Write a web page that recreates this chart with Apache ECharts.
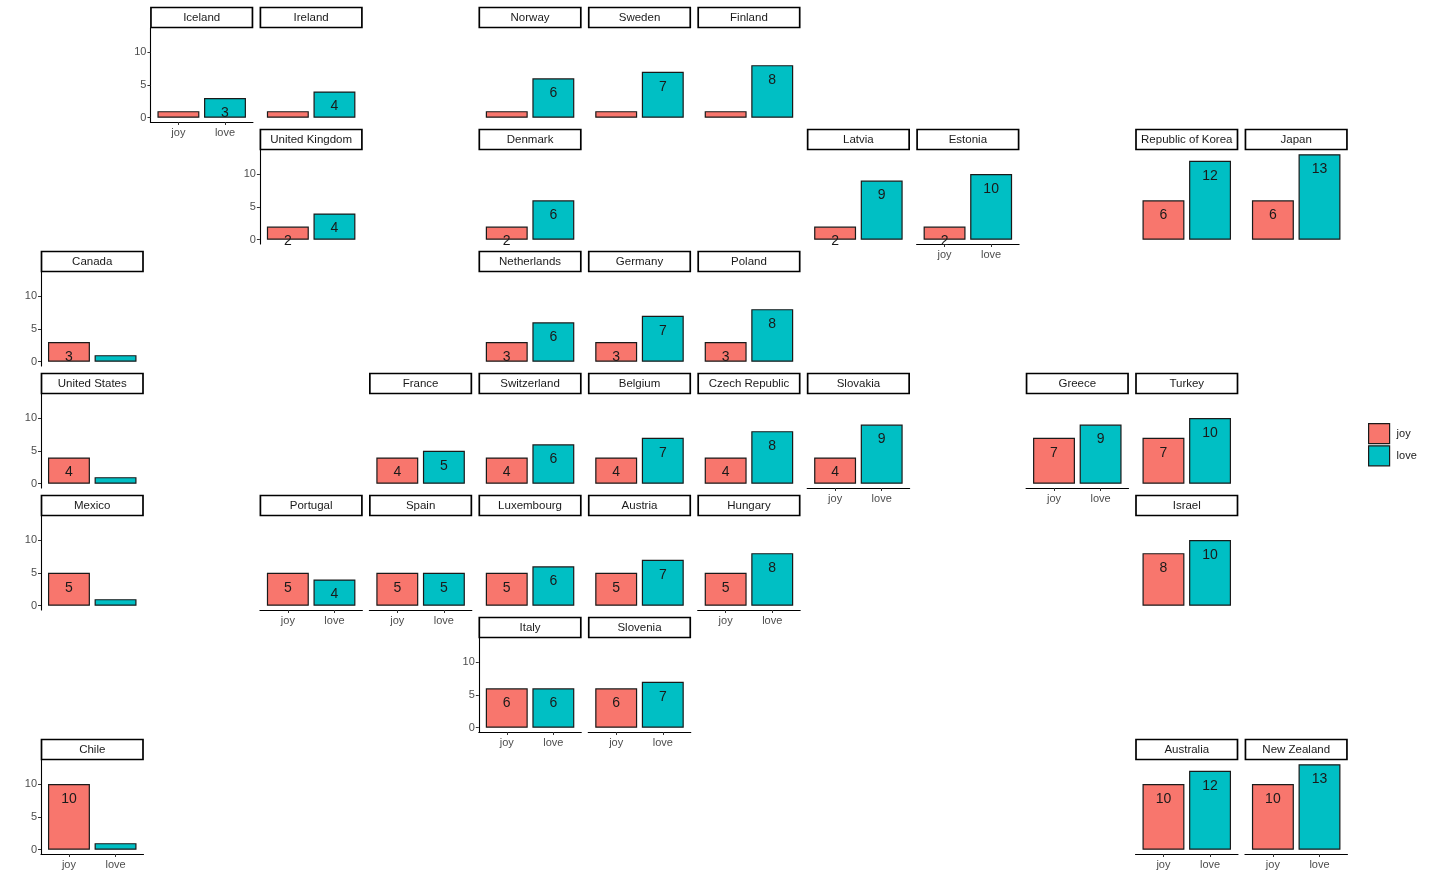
<!DOCTYPE html>
<html>
<head>
<meta charset="utf-8">
<script src="https://cdn.jsdelivr.net/npm/echarts@6/dist/echarts.min.js"></script>
<style>
  html, body { margin: 0; background: #fff; }
  #chart { width: 1430px; height: 894px; }
</style>
</head>
<body>
<div id="chart"></div>
<script>
// geofacet grid: country, joy / love counts, row / col in the grid
const countries = [
  "Iceland", "Ireland", "Norway", "Sweden", "Finland",
  "United Kingdom", "Denmark", "Latvia", "Estonia", "Republic of Korea", "Japan",
  "Canada", "Netherlands", "Germany", "Poland",
  "United States", "France", "Switzerland", "Belgium", "Czech Republic", "Slovakia", "Greece", "Turkey",
  "Mexico", "Portugal", "Spain", "Luxembourg", "Austria", "Hungary", "Israel",
  "Italy", "Slovenia",
  "Chile", "Australia", "New Zealand"
];
const joy = [
  1, 1, 1, 1, 1,
  2, 2, 2, 2, 6, 6,
  3, 3, 3, 3,
  4, 4, 4, 4, 4, 4, 7, 7,
  5, 5, 5, 5, 5, 5, 8,
  6, 6,
  10, 10, 10
];
const love = [
  3, 4, 6, 7, 8,
  4, 6, 9, 10, 12, 13,
  1, 6, 7, 8,
  1, 5, 6, 7, 8, 9, 9, 10,
  1, 4, 5, 6, 7, 8, 10,
  6, 7,
  1, 12, 13
];
const gridRow = [
  0, 0, 0, 0, 0,
  1, 1, 1, 1, 1, 1,
  2, 2, 2, 2,
  3, 3, 3, 3, 3, 3, 3, 3,
  4, 4, 4, 4, 4, 4, 4,
  5, 5,
  6, 6, 6
];
const gridCol = [
  1, 2, 4, 5, 6,
  2, 4, 7, 8, 10, 11,
  0, 4, 5, 6,
  0, 3, 4, 5, 6, 7, 9, 10,
  0, 2, 3, 4, 5, 6, 10,
  4, 5,
  0, 10, 11
];
const emotions = ["joy", "love"];
const yTicks = [0, 5, 10];
const withYAxis = ["Iceland", "United Kingdom", "Canada", "United States", "Mexico", "Italy", "Chile"];
const withXAxis = ["Iceland", "Estonia", "Slovakia", "Greece", "Portugal", "Spain", "Hungary",
  "Italy", "Slovenia", "Chile", "Australia", "New Zealand"];

const colors = ["#F8766D", "#00BFC4"];
const FONT = "'Liberation Sans', Arial, sans-serif";

const colLeft = 41, colStep = 109.45, panelW = 102.5;
const rowTop = 7, rowStep = 122, stripH = 21, panelH = 94;
const yMin = -0.65, yMax = 13.65;
const xMin = 0.4, xMax = 2.6;
const barW = 0.9 / (xMax - xMin) * panelW;

let grids = [], xAxes = [], yAxes = [], series = [], graphics = [];

countries.forEach((name, i) => {
  const left = colLeft + gridCol[i] * colStep;
  const top = rowTop + gridRow[i] * rowStep;
  grids.push({
    left: left, top: top + stripH, width: panelW, height: panelH,
    containLabel: false, outerBoundsMode: "none"
  });
  const hasX = withXAxis.includes(name);
  const hasY = withYAxis.includes(name);
  xAxes.push({
    gridIndex: i, type: "value", min: xMin, max: xMax,
    show: hasX,
    axisLine: { show: true, onZero: false, lineStyle: { color: "#000", width: 1.1 } },
    axisTick: { show: true, customValues: [1, 2], length: 3, lineStyle: { color: "#333" } },
    axisLabel: {
      customValues: [1, 2], formatter: v => emotions[Math.round(v) - 1],
      color: "#4d4d4d", fontSize: 11, fontFamily: FONT, margin: 5
    },
    splitLine: { show: false }
  });
  yAxes.push({
    gridIndex: i, type: "value", min: yMin, max: yMax,
    show: hasY,
    axisLine: { show: true, onZero: false, lineStyle: { color: "#000", width: 1.1 } },
    axisTick: { show: true, customValues: yTicks, length: 3, lineStyle: { color: "#333" } },
    axisLabel: {
      customValues: yTicks, color: "#4d4d4d", fontSize: 11, fontFamily: FONT, margin: 4
    },
    splitLine: { show: false }
  });
  const vals = [joy[i], love[i]];
  emotions.forEach((emo, k) => {
    series.push({
      name: emo, type: "bar", xAxisIndex: i, yAxisIndex: i,
      data: [[k + 1, vals[k]]],
      barWidth: barW, barGap: "-100%",
      itemStyle: { color: colors[k], borderColor: "#1a1a1a", borderWidth: 1.2 },
      label: {
        show: true, position: "insideTop", distance: 8,
        formatter: p => (p.value[1] > 1 ? String(p.value[1]) : ""),
        color: "#1a1a1a", fontSize: 14, fontFamily: FONT
      },
      emphasis: { disabled: true },
      animation: false
    });
  });
  // strip
  graphics.push({
    type: "rect",
    shape: { x: left + 0.5, y: top + 0.5, width: panelW - 1, height: stripH - 1 },
    style: { fill: "#fff", stroke: "#000", lineWidth: 1.7 }
  });
  graphics.push({
    type: "text",
    style: {
      text: name, x: left + panelW / 2, y: top + stripH / 2 + 0.5,
      fill: "#1a1a1a", font: "11.5px " + FONT,
      textAlign: "center", textVerticalAlign: "middle",
      align: "center", verticalAlign: "middle"
    }
  });
});

const chart = echarts.init(document.getElementById("chart"));
chart.setOption({
  backgroundColor: "#fff",
  animation: false,
  grid: grids,
  xAxis: xAxes,
  yAxis: yAxes,
  series: series,
  graphic: graphics,
  legend: {
    data: emotions,
    orient: "vertical",
    left: 1368, top: 423,
    padding: 0,
    itemWidth: 21, itemHeight: 20, itemGap: 1,
    icon: "rect",
    itemStyle: { borderColor: "#1a1a1a", borderWidth: 1.2 },
    textStyle: { color: "#1a1a1a", fontSize: 11, fontFamily: FONT, padding: [0, 0, 0, 2] }
  }
});
</script>
</body>
</html>
